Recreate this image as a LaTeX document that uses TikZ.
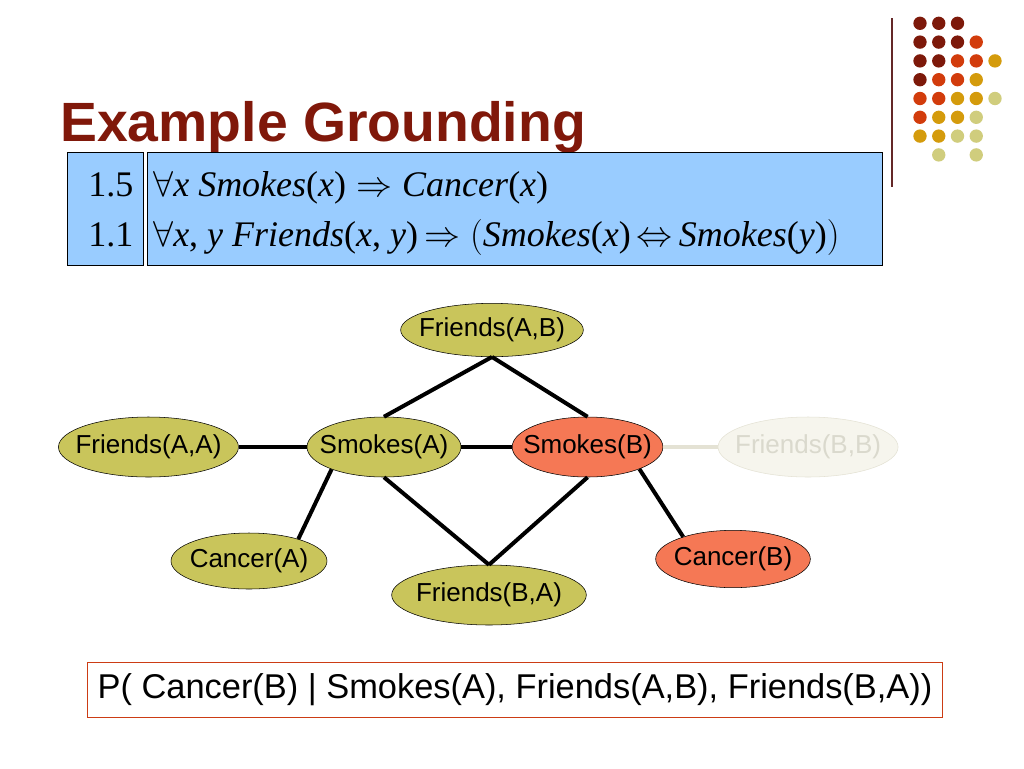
\documentclass[tikz,border=0pt]{standalone}
\usepackage{fix-cm}
\usepackage{fontspec}
\setmainfont{Liberation Sans}
\newfontfamily\formfont{Liberation Serif}
\usetikzlibrary{positioning,shapes.geometric}

\definecolor{titlered}{RGB}{128,24,10}
\definecolor{olivefill}{RGB}{201,197,91}
\definecolor{redfill}{RGB}{245,120,85}
\definecolor{skyfill}{RGB}{153,204,255}
\definecolor{boxred}{RGB}{204,60,20}
\definecolor{rulebrown}{RGB}{100,40,40}
\definecolor{fadefill}{RGB}{246,245,237}
\definecolor{fadeline}{RGB}{228,226,212}
\definecolor{fadetext}{RGB}{218,217,205}
\definecolor{dotdark}{RGB}{125,25,10}
\definecolor{dotred}{RGB}{210,60,12}
\definecolor{dotgold}{RGB}{212,155,12}
\definecolor{dotkhaki}{RGB}{208,205,125}

\begin{document}
\begin{tikzpicture}[x=0.75pt,y=-0.75pt,
  gnode/.style={ellipse,draw,thin,fill=olivefill,inner xsep=-15pt,inner ysep=0pt,minimum height=45pt,font=\fontsize{19.5}{22}\selectfont},
  evid/.style={gnode,fill=redfill},
  link/.style={line width=3pt},
  rulebox/.style={draw,thin,fill=skyfill,anchor=north west,inner sep=0pt},
  formula/.style={anchor=base west,inner sep=0pt,font=\formfont\fontsize{27}{32}\selectfont}
]
\useasboundingbox (0,0) rectangle (1024,768);
\fill[white] (0,0) rectangle (1024,768);

% Title and slide decoration
\node[anchor=base west,inner sep=0pt,text=titlered,font=\fontsize{41.5}{49}\selectfont\bfseries] (title) at (60,141) {Example Grounding};
\draw[rulebrown,line width=1.2pt] (892,18) -- (892,187);
\foreach \c/\r/\col in {0/0/dotdark,1/0/dotdark,2/0/dotdark,
    0/1/dotdark,1/1/dotdark,2/1/dotdark,3/1/dotred,
    0/2/dotdark,1/2/dotdark,2/2/dotred,3/2/dotred,4/2/dotgold,
    0/3/dotdark,1/3/dotred,2/3/dotred,3/3/dotgold,
    0/4/dotred,1/4/dotred,2/4/dotgold,3/4/dotgold,4/4/dotkhaki,
    0/5/dotred,1/5/dotgold,2/5/dotgold,3/5/dotkhaki,
    0/6/dotgold,1/6/dotgold,2/6/dotkhaki,3/6/dotkhaki,
    1/7/dotkhaki,3/7/dotkhaki}
  \fill[\col] (920+18.75*\c,23.3+18.8*\r) circle (5pt);

% Weighted formulas
\node[rulebox,minimum width=57pt,minimum height=85pt] (wbox) at (67,152) {};
\node[rulebox,minimum width=551pt,minimum height=85pt] (fbox) at (147,152) {};
\node[formula] (w1) at (88,196) {1.5};
\node[formula] (w2) at (88,246) {1.1};
\node[formula] (f1) at (153,196) {$\forall$\textit{x Smokes}(\textit{x})$\;\Rightarrow\;$\textit{Cancer}(\textit{x})};
\node[formula] (f2) at (153,246) {$\forall$\textit{x}, \textit{y Friends}(\textit{x}, \textit{y})$\,\Rightarrow\Bigl($\textit{Smokes}(\textit{x})$\,\Leftrightarrow\,$\textit{Smokes}(\textit{y})$\Bigr)$};

% Ground network
\node[gnode,minimum width=115.5pt] (sa) at (384,447) {Smokes(A)};
\node[gnode,minimum width=135pt,left=51pt of sa] (faa) {Friends(A,A)};
\node[evid,minimum width=113pt,right=38pt of sa] (sb) {Smokes(B)};
\node[gnode,minimum width=135pt,right=41pt of sb,draw=fadeline,fill=fadefill,text=fadetext] (fbb) {Friends(B,B)};
\node[gnode,minimum width=137pt,minimum height=40pt] (fab) at (492,330) {Friends(A,B)};
\node[gnode,minimum width=146pt] (fba) at (489,595) {Friends(B,A)};
\node[gnode,minimum width=117pt,minimum height=42pt] (ca) at (249,561) {Cancer(A)};
\node[evid,minimum width=116pt,minimum height=43pt] (cb) at (733,559) {Cancer(B)};

\draw[link] (faa) -- (sa);
\draw[link] (sa) -- (sb);
\draw[link,fadeline] (sb) -- (fbb);
\draw[link] (fab.south) -- (sa.north);
\draw[link] (fab.south) -- (sb.north);
\draw[link] (sa.south) -- (fba.north);
\draw[link] (sb.south) -- (fba.north);
\draw[link] (sa.-157) -- (ca.24);
\draw[link] (sb.-23) -- (cb.156);

% Query
\node[draw=boxred,line width=1.2pt,minimum width=641pt,minimum height=41pt,font=\fontsize{25.8}{30}\selectfont] (query) at (515,690) {P( Cancer(B) | Smokes(A), Friends(A,B), Friends(B,A))};
\end{tikzpicture}
\end{document}
